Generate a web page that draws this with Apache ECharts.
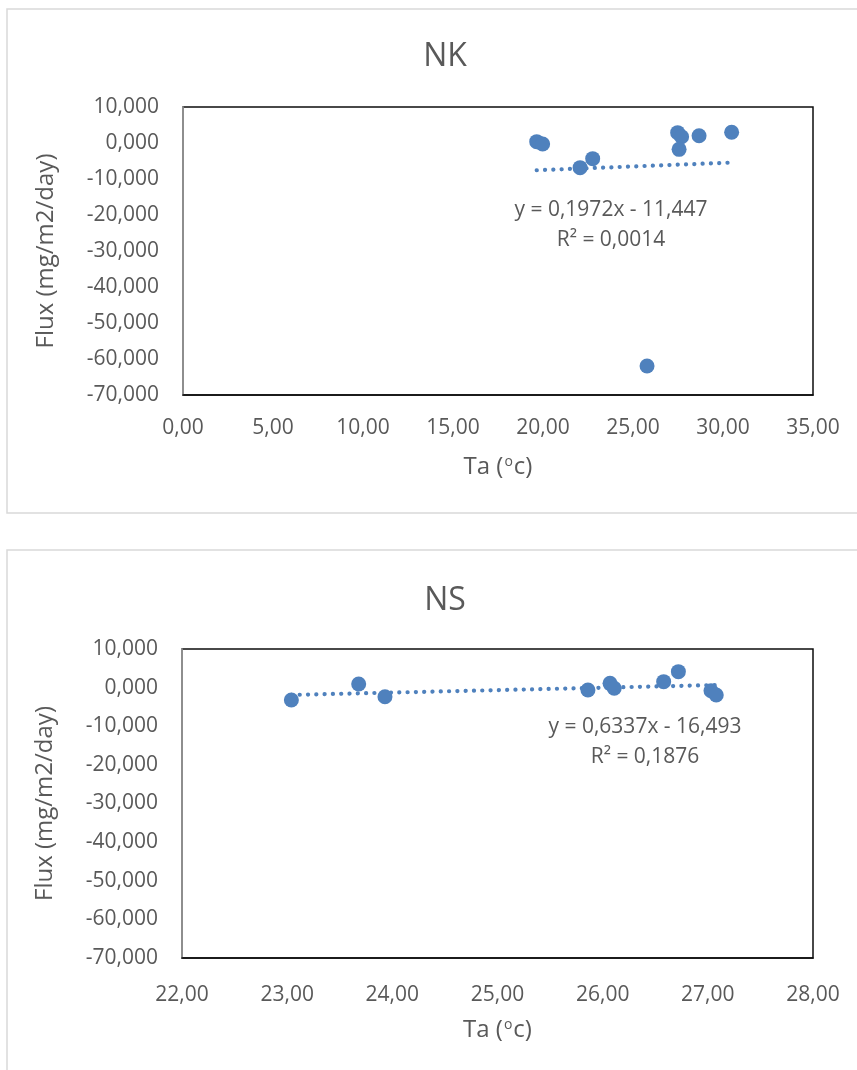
<!DOCTYPE html>
<html>
<head>
<meta charset="utf-8">
<script src="https://cdn.jsdelivr.net/npm/echarts@6/dist/echarts.min.js"></script>
<style>
  html, body { margin: 0; padding: 0; background: #fff; }
  #chart { width: 857px; height: 1070px; }
</style>
</head>
<body>
<div id="chart"></div>
<script>
// Station NK: air temperature (°C) vs flux (mg/m2/day)
const nkTa   = [19.65, 19.98, 22.06, 22.76, 27.48, 27.70, 27.56, 28.67, 30.48, 25.78];
const nkFlux = [0.37, -0.28, -6.85, -4.35, 2.87, 1.75, -1.76, 2.03, 2.97, -61.94];
const nkSlope = 0.1972, nkIntercept = -11.447, nkR2 = '0,0014';

// Station NS
const nsTa   = [23.04, 23.68, 23.93, 25.86, 26.07, 26.11, 26.58, 26.72, 27.03, 27.08];
const nsFlux = [-3.2, 0.94, -2.35, -0.61, 1.11, -0.18, 1.54, 4.13, -0.8, -1.9];
const nsSlope = 0.6337, nsIntercept = -16.493, nsR2 = '0,1876';

// Axis ranges / tick steps
const yTicks = { min: -70, max: 10, interval: 10 };
const nkXTicks = { min: 0, max: 35, interval: 5 };
const nsXTicks = { min: 22, max: 28, interval: 1 };

const FONT = '"Open Sans", "Noto Sans", sans-serif';
const TXT = '#595959';
const BLUE = '#4f81bd';

const comma = (v, d) => v.toFixed(d).replace('.', ',');
const pts = (xs, ys) => xs.map((x, i) => [x, ys[i]]);
function trend(xs, a, b) {
  const lo = Math.min(...xs), hi = Math.max(...xs);
  return [[lo, a * lo + b], [hi, a * hi + b]];
}
const eqText = (a, b) => 'y = ' + comma(a, 4) + 'x - ' + comma(-b, 3);

function xAxisCfg(idx, t, labelMargin, nameGap) {
  return {
    type: 'value', gridIndex: idx, min: t.min, max: t.max, interval: t.interval,
    axisLine: { show: true, onZero: false, lineStyle: { color: '#0d0d0d', width: 1.5 } },
    axisTick: { show: false }, splitLine: { show: false },
    axisLabel: { margin: labelMargin, color: TXT, fontFamily: FONT, fontSize: 21, formatter: v => comma(v, 2) },
    name: 'Ta ({sup|o}c)', nameLocation: 'middle', nameGap: nameGap,
    nameTextStyle: { color: TXT, fontFamily: FONT, fontSize: 24,
      rich: { sup: { fontSize: 14, color: TXT, fontFamily: FONT, verticalAlign: 'top', padding: [0, 1, 10, 1] } } }
  };
}
function yAxisCfg(idx) {
  return {
    type: 'value', gridIndex: idx, min: yTicks.min, max: yTicks.max, interval: yTicks.interval,
    axisLine: { show: true, onZero: false, lineStyle: { color: '#a6a6a6', width: 1.5 } },
    axisTick: { show: false }, splitLine: { show: false },
    axisLabel: { margin: 24, color: TXT, fontFamily: FONT, fontSize: 21, formatter: v => comma(v, 3) },
    name: 'Flux (mg/m2/day)', nameLocation: 'middle', nameGap: 125,
    nameTextStyle: { color: TXT, fontFamily: FONT, fontSize: 24 }
  };
}
function scatter(idx, data) {
  return { type: 'scatter', xAxisIndex: idx, yAxisIndex: idx, data, symbolSize: 15,
    itemStyle: { color: BLUE, opacity: 1 }, z: 3, silent: true };
}
function trendLine(idx, data) {
  return { type: 'line', xAxisIndex: idx, yAxisIndex: idx, data, symbol: 'none', z: 2, silent: true,
    lineStyle: { color: BLUE, width: 4.2, type: [0.1, 8.2], cap: 'round' } };
}
const label = (text, cx, cy) => ({
  type: 'text', x: cx, y: cy, z: 10,
  style: { text, fill: TXT, font: '21px ' + FONT, align: 'center', verticalAlign: 'middle' }
});

const chart = echarts.init(document.getElementById('chart'), null, { renderer: 'canvas' });
chart.setOption({
  animation: false,
  backgroundColor: '#fff',
  title: [
    { text: 'NK', left: 440, top: 36, textAlign: 'center',
      textStyle: { color: TXT, fontFamily: FONT, fontSize: 32, fontWeight: 'normal' } },
    { text: 'NS', left: 440, top: 580, textAlign: 'center',
      textStyle: { color: TXT, fontFamily: FONT, fontSize: 32, fontWeight: 'normal' } }
  ],
  grid: [
    { left: 183, top: 107, width: 630, height: 288, containLabel: false, outerBoundsMode: 'none',
      show: true, borderColor: '#0d0d0d', borderWidth: 1.5, backgroundColor: 'transparent' },
    { left: 182, top: 649, width: 631, height: 309, containLabel: false, outerBoundsMode: 'none',
      show: true, borderColor: '#0d0d0d', borderWidth: 1.5, backgroundColor: 'transparent' }
  ],
  xAxis: [xAxisCfg(0, nkXTicks, 23, 60), xAxisCfg(1, nsXTicks, 27, 60)],
  yAxis: [yAxisCfg(0), yAxisCfg(1)],
  series: [
    trendLine(0, trend(nkTa, nkSlope, nkIntercept)),
    scatter(0, pts(nkTa, nkFlux)),
    trendLine(1, trend(nsTa, nsSlope, nsIntercept)),
    scatter(1, pts(nsTa, nsFlux))
  ],
  graphic: [
    { type: 'rect', shape: { x: 7, y: 9, width: 870, height: 504 }, z: -1,
      style: { fill: 'none', stroke: '#d9d9d9', lineWidth: 1.5 } },
    { type: 'rect', shape: { x: 7, y: 550, width: 870, height: 560 }, z: -1,
      style: { fill: 'none', stroke: '#d9d9d9', lineWidth: 1.5 } },
    label(eqText(nkSlope, nkIntercept), 611, 210),
    label('R² = ' + nkR2, 611, 240),
    label(eqText(nsSlope, nsIntercept), 645, 727),
    label('R² = ' + nsR2, 645, 757)
  ]
});
</script>
</body>
</html>
